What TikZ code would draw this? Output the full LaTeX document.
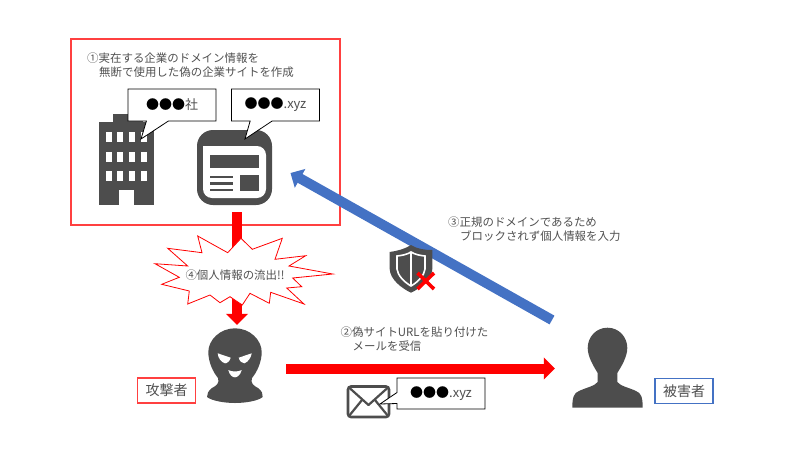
\documentclass[tikz,border=0pt]{standalone}
\usepackage{fontspec}
\setmainfont{Noto Sans CJK JP}
\usepackage{xcolor}
\usetikzlibrary{arrows.meta, positioning, shapes.callouts}
\definecolor{icongray}{HTML}{4D4D4D}
\definecolor{textgray}{HTML}{505050}
\definecolor{flowblue}{HTML}{4472C4}
\definecolor{framered}{HTML}{FF4040}

\begin{document}
\begin{tikzpicture}[
      x=1pt, y=-1pt,
      every node/.style={inner sep=0pt, font=\fontsize{11.45}{14}\selectfont},
      note/.style={align=left, anchor=west, text=textgray},
      bubble/.style={rectangle callout, draw=black, fill=white, line width=0.8pt, minimum width=88pt, minimum height=32pt, text=textgray, font=\fontsize{13}{14}\selectfont},
      role/.style={draw=#1, fill=white, line width=1.2pt, minimum width=58pt, minimum height=25pt, text=textgray, font=\fontsize{14}{14}\selectfont},
      spot/.style={minimum width=#1, minimum height=80pt},
      redflow/.style={draw=red, line width=10pt, -{Triangle[width=21.5pt,length=11pt]}},
      blueflow/.style={draw=flowblue, line width=10pt, -{Triangle[width=21pt,length=11pt]}},
      icon/.style={fill=icongray, draw=none},
      hole/.style={fill=white, draw=none}
    ]
      \useasboundingbox (0,0) rectangle (800,450);

      \node (frame) [draw=framered, line width=1.2pt, minimum width=269pt, minimum height=186pt] at (205.5,132) {};
      \node (attacker) [spot=57pt] at (235,368.5) {};
      \node (victim) [spot=70pt] at (607.5,368.5) {};
      \coordinate (leakStart) at (237,212);
      \coordinate (blueStart) at (552,320);
      \coordinate (blueEnd) at (290.5,173);

      \draw[redflow, shorten >=3.5pt] (leakStart) -- (leakStart |- attacker.north);
      \draw[redflow, shorten <=22.5pt, shorten >=17.5pt] (attacker) -- (victim);
      \draw[blueflow] (blueStart) -- (blueEnd);

      \filldraw[draw=red, fill=white, line width=0.8pt] (155,263.7) -- (187.7,266) -- (167.7,248.3) -- (202,252.7)
        -- (197.7,236) -- (227.7,252.7) -- (241,238.3) -- (252.3,249.3) -- (282.3,238.3) -- (275,259.3)
        -- (305.7,255.7) -- (289,266) -- (332.7,274) -- (292.7,278) -- (301.7,286.7) -- (286.7,288)
        -- (304,304) -- (270.7,292.3) -- (269.3,303.3) -- (250,293.3) -- (242.3,305) -- (230,296.7)
        -- (220,302.7) -- (210,295) -- (187.7,304) -- (189.3,291) -- (161.7,284.3) -- (179.3,277.3) -- cycle;
      \node (leakText) [text=textgray] at (235,275) {④個人情報の流出!!};

      % building
      \fill[icon] (99,122) rectangle (154,205);
      \fill[icon] (113,114) rectangle (143,122);
      \foreach \wx in {105.7,117,129,141}
        \foreach \wy in {132,151.5,171}
          \fill[hole] (\wx,\wy) rectangle ++(6,10);
      \fill[hole] (119,190) rectangle (134,205);

      % web page
      \fill[icon, rounded corners=16pt] (197,130) rectangle (272,205);
      \fill[hole, rounded corners=9pt] (203,146) -- (203,198) -- (266,198) -- (266,146) [sharp corners] -- cycle;
      \fill[icon] (210,155) rectangle (259,168);
      \fill[icon] (210,175.5) rectangle (233,178);
      \fill[icon] (210,182) rectangle (233,184.5);
      \fill[icon] (210,188.5) rectangle (233,191);
      \fill[icon] (240,175) rectangle (259,191);

      \node (companyBubble) [bubble, callout absolute pointer={(141,139)}, callout pointer width=22pt] at (172,105) {\textcolor{black}{●●●}社};
      \node (siteBubble) [bubble, callout absolute pointer={(245,139)}, callout pointer width=22pt] at (275.5,105) {\textcolor{black}{●●●}.xyz};

      % attacker
      \fill[icon] (235,328.3) .. controls (250,328.3) and (261.7,340) .. (261.7,352)
        .. controls (261.7,362) and (257,372) .. (252,378) .. controls (250,383) and (254,386) .. (258,388)
        .. controls (262,391) and (263,394) .. (262.7,397) .. controls (258,401) and (245,403) .. (235,403)
        .. controls (225,403) and (212,401) .. (207,397) .. controls (207,394) and (208,391) .. (212,388)
        .. controls (216,386) and (220,383) .. (218,378) .. controls (213,372) and (208.3,362) .. (208.3,352)
        .. controls (208.3,340) and (220,328.3) .. (235,328.3) -- cycle;
      \fill[hole] (217.7,353.3) -- (230.7,357.7) .. controls (230,361) and (227,363.5) .. (225,363.3)
        .. controls (221,362) and (218,358) .. (217.7,353.3) -- cycle;
      \fill[hole] (251.7,353.3) -- (238.7,357.7) .. controls (239.5,361) and (242,363.5) .. (244.3,363.3)
        .. controls (248,362) and (251,358) .. (251.7,353.3) -- cycle;
      \fill[hole] (228.3,370) .. controls (232,372) and (238,372) .. (241.7,370)
        .. controls (240.5,375) and (237,377.5) .. (235,377.3) .. controls (232.5,377.5) and (229.5,375) .. (228.3,370) -- cycle;

      % victim
      \fill[icon] (607.5,327.7) .. controls (619,327.7) and (627.3,337) .. (627.3,348)
        .. controls (627.3,357) and (621,367) .. (617.3,373) -- (617.3,382)
        .. controls (620,386) and (630,388) .. (636,391) .. controls (641,393) and (642.7,397) .. (642.7,407.7)
        -- (572.3,407.7) .. controls (572.3,397) and (574,393) .. (579,391) .. controls (585,388) and (595,386) .. (597.7,382)
        -- (597.7,373) .. controls (594,367) and (587.7,357) .. (587.7,348)
        .. controls (587.7,337) and (596,327.7) .. (607.5,327.7) -- cycle;

      % envelope
      \draw[icongray, line width=2.6pt, rounded corners=3pt] (348,386.5) rectangle (389,417);
      \draw[icongray, line width=2.2pt, line join=round] (349,387.5) -- (368.5,405) -- (388,387.5);
      \draw[icongray, line width=2.2pt] (349,416) -- (362,400);
      \draw[icongray, line width=2.2pt] (388,416) -- (375,400);
      \node (mailBubble) [bubble, callout absolute pointer={(380,404)}, callout pointer width=11pt, minimum height=31pt] at (441,393.5) {\textcolor{black}{●●●}.xyz};

      % shield
      \fill[icon] (411,245) .. controls (417,249) and (425,250) .. (432.3,250) -- (432.3,269)
        .. controls (432,279) and (421,288) .. (411,292.7) .. controls (401,288) and (390,279) .. (389.7,269)
        -- (389.7,252) .. controls (397,251) and (405,249) .. (411,245) -- cycle;
      \draw[white, line width=1.6pt] (411,252) .. controls (415,254.5) and (420,255.5) .. (425,256) -- (425,269)
        .. controls (424.5,275) and (418,282) .. (411,286) .. controls (404,282) and (397.5,275) .. (397,269)
        -- (397,256) .. controls (402,255.5) and (407,254.5) .. (411,252) -- cycle;
      \draw[white, line width=1.2pt] (411,252) -- (411,286);
      \draw[red, line width=3.6pt] (417.5,273) -- (434,289);
      \draw[red, line width=3.6pt] (434,273) -- (417.5,289);

      \node (stepOne) [note] at (87,65) {①実在する企業のドメイン情報を\\\hspace*{12pt}無断で使用した偽の企業サイトを作成};
      \node (stepTwo) [note] at (340.5,339.5) {②偽サイトURLを貼り付けた\\\hspace*{12pt}メールを受信};
      \node (stepThree) [note] at (448,229) {③正規のドメインであるため\\\hspace*{12pt}ブロックされず個人情報を入力};

      \node (attackerRole) [role=framered] at (166.5,390.5) {攻撃者};
      \node (victimRole) [role=flowblue] at (684,391) {被害者};
    \end{tikzpicture}
\end{document}
